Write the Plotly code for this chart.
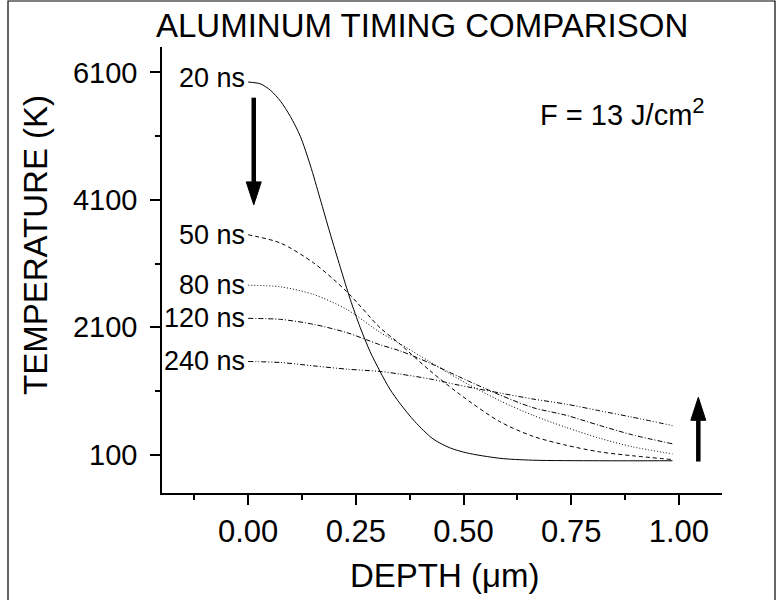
import plotly.graph_objects as go

# ---------------- data ----------------
depth_20ns = [0, 0.029, 0.052, 0.075, 0.098, 0.121, 0.144, 0.167, 0.19, 0.214, 0.237,
              0.26, 0.283, 0.306, 0.329, 0.353, 0.387, 0.429, 0.468, 0.507, 0.584,
              0.66, 0.816, 0.985]
temp_20ns = [5950, 5920, 5820, 5650, 5410, 5100, 4650, 4120, 3580, 3040, 2540,
             2100, 1720, 1410, 1130, 900, 620, 350, 210, 130, 45,
             15, 6, 6]

depth_late = [0, 0.075, 0.152, 0.229, 0.306, 0.353, 0.422, 0.491, 0.584, 0.661,
              0.738, 0.816, 0.892, 0.985]
temp_50ns = [3553, 3423, 3111, 2660, 2095, 1834, 1420, 1050, 620, 390, 250, 145, 85, 25]
temp_80ns = [2761, 2736, 2616, 2381, 2022, 1840, 1560, 1280, 950, 720, 530, 360, 225, 115]
temp_120ns = [2241, 2225, 2147, 2017, 1827, 1730, 1538, 1320, 1040, 840, 720, 560, 413, 272]
temp_240ns = [1564, 1548, 1495, 1444, 1408, 1366, 1290, 1190, 1070, 975, 895, 790, 690, 558]

series_names = ["20 ns", "50 ns", "80 ns", "120 ns", "240 ns"]
series_depths = [depth_20ns, depth_late, depth_late, depth_late, depth_late]
series_temps = [temp_20ns, temp_50ns, temp_80ns, temp_120ns, temp_240ns]
series_dash = ["solid", "4px,3px", "1px,2px", "5px,2px,1px,2px", "5px,2px,1px,2px,1px,2px"]
label_yshift = [4, 0, 0, 0, 0]

x_tickvals = [0, 0.25, 0.5, 0.75, 1.0]
x_ticktext = ["0.00", "0.25", "0.50", "0.75", "1.00"]
x_minor = [-0.125, 0.125, 0.375, 0.625, 0.875]
y_tickvals = [100, 2100, 4100, 6100]
y_ticktext = ["100", "2100", "4100", "6100"]
y_minor = [1100, 3100, 5100]

title_text = "ALUMINUM TIMING COMPARISON"
xlabel = "DEPTH (\u03bcm)"
ylabel = "TEMPERATURE (K)"
fluence_text = "F = 13 J/cm<sup><span style='font-size:22px'>2</span></sup>"

# arrows: (x, tail_y, tip_y)
arrow_down = (0.013, 5705, 4022)
arrow_up = (1.045, -6, 1002)

# ---------------- layout geometry ----------------
W, H = 781, 600
ML, MR, MT, MB = 162, 59, 47, 107
PW, PH = W - ML - MR, H - MT - MB
FONT = "Liberation Sans, Arial, sans-serif"


def px_x(p):
    return (p - ML) / PW


def px_y(p):
    return (H - MB - p) / PH


fig = go.Figure()
for name, d, t, dash in zip(series_names, series_depths, series_temps, series_dash):
    fig.add_trace(go.Scatter(
        x=d, y=t, mode="lines", name=name,
        line=dict(color="black", width=1, dash=dash, shape="spline", smoothing=0.8),
        showlegend=False, hoverinfo="skip"))

annotations = []
for name, d, t, ys in zip(series_names, series_depths, series_temps, label_yshift):
    annotations.append(dict(x=d[0], y=t[0], xref="x", yref="y", text=name,
                            showarrow=False, xanchor="right", yanchor="middle",
                            xshift=-1, yshift=ys,
                            font=dict(family=FONT, size=27, color="black")))

annotations += [
    dict(x=px_x(422), y=px_y(26), xref="paper", yref="paper", text=title_text,
         showarrow=False, xanchor="center", yanchor="middle",
         font=dict(family=FONT, size=33, color="black")),
    dict(x=px_x(445), y=px_y(575), xref="paper", yref="paper", text=xlabel,
         showarrow=False, xanchor="center", yanchor="middle",
         font=dict(family=FONT, size=33, color="black")),
    dict(x=px_x(36), y=px_y(245), xref="paper", yref="paper", text=ylabel,
         showarrow=False, xanchor="center", yanchor="middle", textangle=-90,
         font=dict(family=FONT, size=33, color="black")),
    dict(x=px_x(538), y=px_y(112), xref="paper", yref="paper", text=fluence_text,
         showarrow=False, xanchor="left", yanchor="middle",
         font=dict(family=FONT, size=29, color="black")),
]

shapes = []
HEAD_W, HEAD_L = 15, 23
for (ax, y_tail, y_tip) in [arrow_down, arrow_up]:
    sign = 1 if y_tail > y_tip else -1
    head_base = y_tip + sign * HEAD_L * (7000 / PH)
    shapes.append(dict(type="line", xref="x", yref="y", x0=ax, x1=ax,
                       y0=y_tail, y1=head_base,
                       line=dict(color="black", width=4.5)))
    shapes.append(dict(type="path", xref="x", yref="y",
                       xsizemode="pixel", ysizemode="pixel",
                       xanchor=ax, yanchor=y_tip,
                       path=f"M0,0 L{-HEAD_W/2},{sign*HEAD_L} L{HEAD_W/2},{sign*HEAD_L} Z",
                       fillcolor="black", line=dict(color="black", width=1)))

# frame around the whole picture
shapes.append(dict(type="rect", xref="paper", yref="paper",
                   x0=px_x(8), x1=px_x(775), y0=px_y(620), y1=px_y(1),
                   line=dict(color="black", width=1.2), fillcolor="rgba(0,0,0,0)"))

axis_common = dict(showgrid=False, zeroline=False, showline=True, linecolor="black",
                   linewidth=1.5, ticks="outside", ticklen=10, tickwidth=1.5,
                   tickcolor="black", mirror=False)

fig.update_layout(
    width=W, height=H,
    margin=dict(l=ML, r=MR, t=MT, b=MB, pad=0),
    paper_bgcolor="white", plot_bgcolor="white",
    xaxis=dict(range=[-0.2, 1.1], tickmode="array", tickvals=x_tickvals,
               ticktext=x_ticktext,
               tickfont=dict(family=FONT, size=31, color="black"),
               minor=dict(ticks="outside", ticklen=5, tickwidth=1.5, tickcolor="black",
                          tickmode="array", tickvals=x_minor, showgrid=False),
               **axis_common),
    yaxis=dict(range=[-500, 6500], tickmode="array", tickvals=y_tickvals,
               ticktext=y_ticktext, ticklabelstandoff=7,
               tickfont=dict(family=FONT, size=29, color="black"),
               minor=dict(ticks="outside", ticklen=5, tickwidth=1.5, tickcolor="black",
                          tickmode="array", tickvals=y_minor, showgrid=False),
               **axis_common),
    annotations=annotations,
    shapes=shapes,
    showlegend=False,
)

fig.write_html("out.html")
